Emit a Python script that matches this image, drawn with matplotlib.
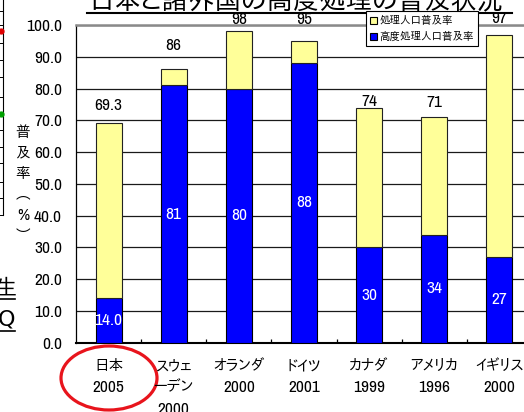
import matplotlib
matplotlib.use('Agg')
import matplotlib.pyplot as plt
import matplotlib.transforms as mtrans
from matplotlib.patches import Patch, Ellipse
from matplotlib.lines import Line2D
from matplotlib.ticker import FixedLocator, NullLocator
import numpy as np

# ---------------- data ----------------
countries = ['日本', 'スウェ\nーデン', 'オランダ', 'ドイツ', 'カナダ', 'アメリカ', 'イギリス']
years = ['2005', '2000', '2000', '2001', '1999', '1996', '2000']
total_rate = [69.3, 86, 98, 95, 74, 71, 97]          # 処理人口普及率
advanced_rate = [14.0, 81, 80, 88, 30, 34, 27]        # 高度処理人口普及率
total_labels = ['69.3', '86', '98', '95', '74', '71', '97']
advanced_labels = ['14.0', '81', '80', '88', '30', '34', '27']
series_names = ['処理人口普及率', '高度処理人口普及率']
title_text = '日本と諸外国の高度処理の普及状況'
ylabel_chars = ['普', '及', '率', '︵', '%', '︶']
y_ticks = [0, 10, 20, 30, 40, 50, 60, 70, 80, 90, 100]

# ---------------- style ----------------
W, H = 524, 412
NARROW = ['Archivo Narrow', 'Roboto Condensed', 'Liberation Sans', 'DejaVu Sans']
CJK = ['IPAPGothic', 'Noto Sans CJK JP', 'DejaVu Sans']
YELLOW = '#FFFF99'
BLUE = '#0000FF'
NUM_FS = 12.5
label_offsets_px = [17.5, 23.5, 11.5, 21, 6.5, 14.5, 16.5]


def fx(x):
    return x / W


def fy(y):
    return 1 - y / H


fig = plt.figure(figsize=(W / 100, H / 100), dpi=100)
fig.patch.set_facecolor('white')

ax = fig.add_axes([fx(76), fy(342.7), 456 / W, 317.7 / H])

x = np.arange(len(countries))
yellow_part = [t - a for t, a in zip(total_rate, advanced_rate)]
ax.bar(x, advanced_rate, 0.4, color=BLUE, edgecolor='black', linewidth=0.8, zorder=3)
ax.bar(x, yellow_part, 0.4, bottom=advanced_rate, color=YELLOW, edgecolor='#222222',
       linewidth=0.8, zorder=3)

ax.set_xlim(-0.5, len(countries) - 0.5)
ax.set_ylim(0, 100)
ax.yaxis.set_major_locator(FixedLocator(y_ticks))
ax.set_yticklabels([f'{v:.1f}' for v in y_ticks], fontfamily=NARROW, fontsize=NUM_FS)
ax.tick_params(axis='y', length=0, pad=10)
ax.grid(axis='y', color='#1a1a1a', linewidth=0.9, zorder=1)
ax.set_axisbelow(True)

ax.xaxis.set_major_locator(NullLocator())
ax.xaxis.set_minor_locator(FixedLocator(np.arange(0.5, len(countries) - 0.5, 1)))
ax.tick_params(axis='x', which='minor', direction='in', length=3, width=0.9, color='black')

ax.spines['top'].set_color('#8a8a8a')
ax.spines['top'].set_linewidth(1.8)
ax.spines['right'].set_visible(False)
ax.spines['left'].set_color('black')
ax.spines['left'].set_linewidth(0.9)
ax.spines['bottom'].set_color('black')
ax.spines['bottom'].set_linewidth(1.5)

# value labels
for i in range(len(countries)):
    ax.annotate(total_labels[i], (x[i], total_rate[i]),
                xytext=(0, label_offsets_px[i] * 0.72), textcoords='offset points',
                ha='center', va='center', fontfamily=NARROW, fontsize=NUM_FS, color='black')
    ax.text(x[i], advanced_rate[i] / 2, advanced_labels[i], ha='center', va='center',
            fontfamily=NARROW, fontsize=NUM_FS, color='white', zorder=4)

# category labels
trans = mtrans.blended_transform_factory(ax.transData, fig.transFigure)
for i in range(len(countries)):
    lines = countries[i].split('\n') + [years[i]]
    for j, ln in enumerate(lines):
        is_num = ln.isdigit()
        fig.text(x[i], fy(366 + 21.5 * j), ln, transform=trans, ha='center', va='center',
                 fontfamily=NARROW if is_num else CJK,
                 fontsize=NUM_FS if is_num else 10.5, color='black')

# y label (vertical characters)
for k, ch in enumerate(ylabel_chars):
    is_pct = ch == '%'
    fig.text(fx(23), fy(133 + 20.5 * k), ch, ha='center', va='center',
             fontfamily=NARROW if is_pct else CJK, fontsize=12 if is_pct else 10.5,
             color='black')

# legend
handles = [Patch(facecolor=YELLOW, edgecolor='black', linewidth=0.8),
           Patch(facecolor=BLUE, edgecolor='black', linewidth=0.8)]
leg = fig.legend(handles, series_names, loc='upper left',
                 bbox_to_anchor=(fx(366), fy(11)), bbox_transform=fig.transFigure,
                 prop={'family': CJK, 'size': 7.6}, frameon=True, fancybox=False,
                 edgecolor='black', framealpha=1, borderpad=0.4, labelspacing=0.45,
                 handlelength=0.6, handleheight=0.6, handletextpad=0.25, borderaxespad=0)
leg.get_frame().set_linewidth(0.8)

# title (cut off at top)
fig.text(fx(88), fy(9), title_text, ha='left', va='baseline',
         fontfamily=CJK, fontsize=19, color='black')
fig.add_artist(Line2D([fx(87), fx(512)], [fy(13), fy(13)], color='black',
                      linewidth=1.5, transform=fig.transFigure))

# red ellipse around Japan
fig.add_artist(Ellipse((1.09, (H - 378) / 100), 0.96, 0.64, transform=fig.dpi_scale_trans,
                       fill=False, edgecolor='#E8141C', linewidth=2.3))

# background slide remnants on the left
fig.add_artist(Line2D([fx(3), fx(3)], [fy(0), fy(215)], color='black', linewidth=0.8,
                      transform=fig.transFigure))
for yy in [11, 25, 43, 60, 77, 97, 113, 130, 147, 163, 182, 198, 215]:
    fig.add_artist(Line2D([fx(0), fx(3)], [fy(yy), fy(yy)], color='black', linewidth=0.7,
                          transform=fig.transFigure))
fig.add_artist(Line2D([fx(0.5)], [fy(31)], marker='o', markersize=3.5, color='#E00000',
                      transform=fig.transFigure, linestyle='none'))
fig.add_artist(Line2D([fx(0.5)], [fy(114)], marker='o', markersize=3.5, color='#00A000',
                      transform=fig.transFigure, linestyle='none'))
fig.text(fx(16), fy(288), '生', ha='right', va='center', fontfamily=CJK, fontsize=16)
fig.text(fx(15), fy(320), 'Q', ha='right', va='center', fontfamily=['DejaVu Sans'], fontsize=16)
for yy in [299, 331]:
    fig.add_artist(Line2D([fx(0), fx(15)], [fy(yy), fy(yy)], color='black', linewidth=1.2,
                          transform=fig.transFigure))

fig.savefig('out.png', dpi=100, facecolor='white')
